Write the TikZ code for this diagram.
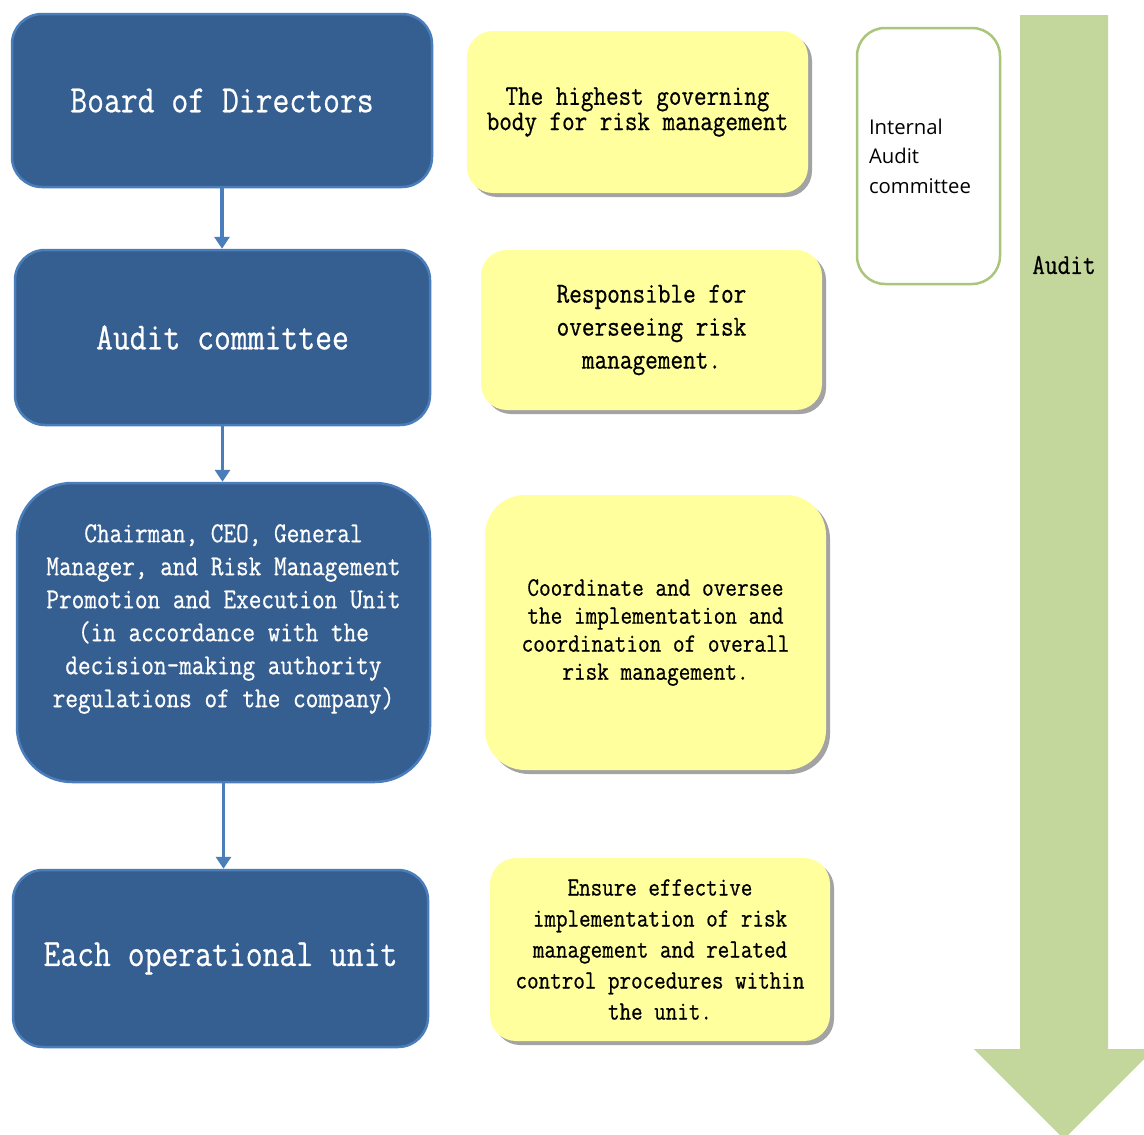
\documentclass[tikz,border=0pt]{standalone}
\usepackage{fontspec}
\usetikzlibrary{arrows.meta,shadows}
\newfontfamily\boxfont[FakeStretch=0.85,FakeBold=0.6]{Latin Modern Mono}
\newfontfamily\notefont{Open Sans}
\definecolor{navyfill}{HTML}{365F91}
\definecolor{navyedge}{HTML}{4A7EBB}
\definecolor{notefill}{HTML}{FFFF9E}
\definecolor{auditgreen}{HTML}{C3D69B}
\definecolor{auditedge}{HTML}{A9C67A}
\tikzset{
  rolebox/.style={draw=navyedge, line width=2.5pt, fill=navyfill, text=white,
    rounded corners=30pt, align=center, inner sep=0pt, font=\boxfont},
  dutybox/.style={fill=notefill, rounded corners=26pt, align=center, inner sep=0pt,
    font=\boxfont, text=black,
    drop shadow={shadow xshift=4pt, shadow yshift=-4pt, fill=black!45, opacity=0.8}},
  flow/.style={draw=navyedge, line width=3.5pt, -{Triangle[width=15pt,length=12pt]}},
}
\begin{document}
\begin{tikzpicture}[x=1pt,y=-1pt]
\useasboundingbox (0,0) rectangle (1144,1135);
\clip (0,0) rectangle (1144,1135);
\fill[white] (0,0) rectangle (1144,1135);

% governance chain
\node[rolebox, minimum width=420pt, minimum height=173pt,
  font=\boxfont\fontsize{38.5}{44}\selectfont] (bod) at (222,100.5) {Board of Directors};
\node[rolebox, minimum width=415pt, minimum height=175pt,
  font=\boxfont\fontsize{38.5}{44}\selectfont] (ac) at (222.5,337.5) {Audit committee};
\node[rolebox, rounded corners=55pt, minimum width=413pt, minimum height=299pt]
  (ceo) at (223.5,632.5) {};
\node[align=center, text=white, inner sep=0pt,
  font=\boxfont\fontsize{28.9}{33}\selectfont] (ceotext) at (223.5,619)
  {Chairman, CEO, General\\Manager, and Risk Management\\Promotion and Execution Unit\\(in accordance with the\\decision-making authority\\regulations of the company)};
\node[rolebox, minimum width=415pt, minimum height=177pt,
  font=\boxfont\fontsize{38.5}{44}\selectfont] (unit) at (220.5,958.5) {Each operational unit};

\draw[flow] (bod.south) -- (bod.south |- ac.north);
\draw[flow] (ac.south) -- (ac.south |- ceo.north);
\draw[flow] (ceo.south) -- (ceo.south |- unit.north);

% responsibilities
\node[dutybox, minimum width=341pt, minimum height=162pt,
  font=\boxfont\fontsize{28.7}{21}\selectfont] (d1) at (637.5,112)
  {The highest governing\\body for risk management};
\node[dutybox, minimum width=341pt, minimum height=160pt,
  font=\boxfont\fontsize{28.9}{33}\selectfont] (d2) at (651.5,330)
  {Responsible for\\overseeing risk\\management.};
\node[dutybox, rounded corners=40pt, minimum width=341pt, minimum height=275pt,
  font=\boxfont\fontsize{26.6}{28}\selectfont] (d3) at (655.5,632.5)
  {Coordinate and oversee\\the implementation and\\coordination of overall\\risk management.};
\node[dutybox, minimum width=340pt, minimum height=183pt,
  font=\boxfont\fontsize{26.4}{31}\selectfont] (d4) at (660,949.5)
  {Ensure effective\\implementation of risk\\management and related\\control procedures within\\the unit.};

% internal audit
\node[draw=auditedge, line width=2.5pt, fill=white, rounded corners=28pt,
  minimum width=143pt, minimum height=256pt, text width=119pt, inner xsep=12pt,
  align=left, font=\notefont\fontsize{20.3}{29.5}\selectfont] (iac) at (928.5,156)
  {Internal\\Audit\\committee};

\fill[auditgreen] (1020,15) -- (1108,15) -- (1108,1049) -- (1154,1049)
  -- (1064,1139) -- (974,1049) -- (1020,1049) -- cycle;
\node[font=\boxfont\fontsize{29}{33}\selectfont] (audit) at (1064,265) {Audit};
\end{tikzpicture}
\end{document}
